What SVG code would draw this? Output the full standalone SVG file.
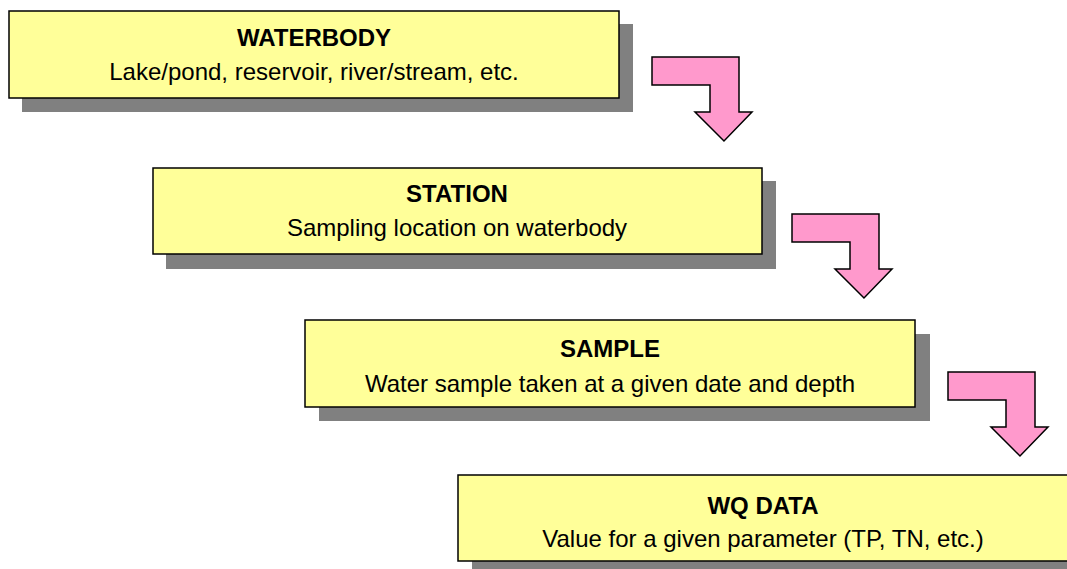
<svg xmlns="http://www.w3.org/2000/svg" width="1067" height="569" viewBox="0 0 1067 569">
<defs>
<style>
.shadow{fill:#808080;stroke:none}
.box{fill:#FFFF99;stroke:#000;stroke-width:1.5}
.arrow{fill:#FF99CC;stroke:#000;stroke-width:1.5;stroke-linejoin:miter}
.title{font-family:"Liberation Sans",Arial,sans-serif;font-size:24px;font-weight:bold;text-anchor:middle;fill:#000}
.sub{font-family:"Liberation Sans",Arial,sans-serif;font-size:24px;text-anchor:middle;fill:#000}
</style>
<path id="bend" d="M0,0 H87 V55 H100 L72,84 L43,55 H58 V28 H0 Z"/>
</defs>
<rect width="1067" height="569" fill="#fff"/>
<g id="waterbody">
<rect class="shadow" x="22" y="24" width="611" height="88"/>
<rect class="box" x="9" y="11" width="610" height="87"/>
<text class="title" x="314" y="46">WATERBODY</text>
<text class="sub" x="314" y="80">Lake/pond, reservoir, river/stream, etc.</text>
</g>
<g id="station">
<rect class="shadow" x="166" y="181" width="610" height="88"/>
<rect class="box" x="153" y="168" width="609" height="86"/>
<text class="title" x="457" y="202">STATION</text>
<text class="sub" x="457" y="236">Sampling location on waterbody</text>
</g>
<g id="sample">
<rect class="shadow" x="319" y="334" width="611" height="87"/>
<rect class="box" x="305" y="320" width="610" height="87"/>
<text class="title" x="610" y="357">SAMPLE</text>
<text class="sub" x="610" y="392">Water sample taken at a given date and depth</text>
</g>
<g id="wqdata">
<rect class="shadow" x="472" y="489" width="610" height="88"/>
<rect class="box" x="458" y="475" width="610" height="86"/>
<text class="title" x="763" y="514">WQ DATA</text>
<text class="sub" x="763" y="547">Value for a given parameter (TP, TN, etc.)</text>
</g>
<g id="connectors">
<use href="#bend" class="arrow" transform="translate(652,57)"/>
<use href="#bend" class="arrow" transform="translate(792,214)"/>
<use href="#bend" class="arrow" transform="translate(948,372)"/>
</g>
</svg>
